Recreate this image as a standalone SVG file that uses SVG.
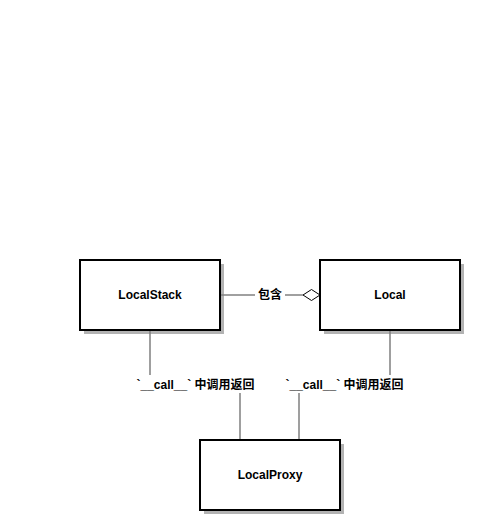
<svg xmlns="http://www.w3.org/2000/svg" width="480" height="530" viewBox="0 0 480 530">
<style>
.shadow{fill:#b3b3b3;stroke:none}
.box{fill:#fff;stroke:#000;stroke-width:2}
.t{font-family:"Liberation Sans","Noto Sans CJK SC",Arial,sans-serif;font-size:12px;font-weight:bold;fill:#000;text-anchor:middle;dominant-baseline:central}
.edge{fill:none;stroke:#808080;stroke-width:1.5}
.lbg{fill:#fff;stroke:none}
</style>
<rect width="480" height="530" fill="#fff"/>
<g id="shadows">
<rect class="shadow" x="84" y="264" width="140" height="70"/>
<rect class="shadow" x="324" y="264" width="140" height="70"/>
<rect class="shadow" x="204" y="444" width="140" height="70"/>
</g>
<g id="connectors">
<path class="edge" d="M220,295 H303"/>
<path d="M303,295 L311.5,289.5 L320,295 L311.5,300.5 Z" fill="#fff" stroke="#000" stroke-width="1"/>
<rect class="lbg" x="255" y="287" width="30" height="16"/>
<text class="t" x="270" y="295">包含</text>
<path class="edge" d="M150,330 V385 H240 V440"/>
<rect class="lbg" x="135" y="375" width="121" height="18"/>
<text class="t" x="195.5" y="384.5">`__call__` 中调用返回</text>
<path class="edge" d="M390,330 V385 H299 V440"/>
<rect class="lbg" x="284" y="375" width="121" height="18"/>
<text class="t" x="344.5" y="384.5">`__call__` 中调用返回</text>
</g>
<g id="LocalStack">
<rect class="box" x="80" y="260" width="140" height="70"/>
<text class="t" x="150" y="295">LocalStack</text>
</g>
<g id="Local">
<rect class="box" x="320" y="260" width="140" height="70"/>
<text class="t" x="390" y="295">Local</text>
</g>
<g id="LocalProxy">
<rect class="box" x="200" y="440" width="140" height="70"/>
<text class="t" x="270" y="475">LocalProxy</text>
</g>
</svg>
